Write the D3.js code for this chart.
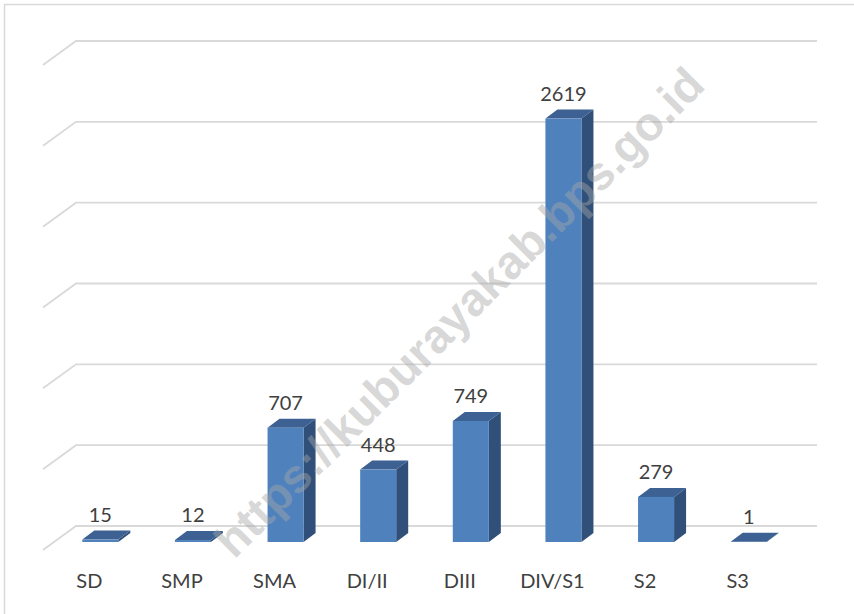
<!DOCTYPE html>
<html>
<head>
<meta charset="utf-8">
<script src="https://cdn.jsdelivr.net/npm/d3@7"></script>
<style>
  body { margin: 0; background: #fff; }
  svg { display: block; }
</style>
</head>
<body>
<svg width="854" height="614"></svg>
<script>
const svg = d3.select('svg');

// data
const categories = ["SD", "SMP", "SMA", "DI/II", "DIII", "DIV/S1", "S2", "S3"];
const values = [15, 12, 707, 448, 749, 2619, 279, 1];
const gridValues = [0, 500, 1000, 1500, 2000, 2500, 3000];
const watermark = "https://kuburayakab.bps.go.id";

// 3d layout: back wall, depth of the floor, depth of each bar
const wall = { left: 76, right: 817 };
const depth = { dx: 33, dy: -24 };       // front edge of floor -> back wall
const frontOff = { dx: -22, dy: 16 };    // back wall -> front face of bars
const barDepth = { dx: 12, dy: -9 };

const textColor = "#404040";
const gridColor = "#d9d9d9";
const labelFont = "Lato, 'Open Sans', sans-serif";

// outer chart border
svg.append('rect')
    .attr('x', 4.5).attr('y', 4.5)
    .attr('width', 900).attr('height', 700)
    .attr('fill', 'none')
    .attr('stroke', gridColor)
    .attr('stroke-width', 1.5);

const yBack = d3.scaleLinear()
    .domain([0, 3000])
    .range([526, 41]);

const x = d3.scaleBand()
    .domain(categories)
    .range([wall.left + frontOff.dx, wall.right + frontOff.dx])
    .paddingInner(0.611)
    .paddingOuter(0.3055);

const yFront = v => yBack(v) + frontOff.dy;

// gridlines on back wall + side wall
const grid = svg.append('g').attr('class', 'grid');
grid.selectAll('path').data(gridValues).enter().append('path')
    .attr('d', v => {
        const y = yBack(v);
        return `M${wall.left - depth.dx},${y - depth.dy}L${wall.left},${y}L${wall.right},${y}`;
    })
    .attr('fill', 'none')
    .attr('stroke', gridColor)
    .attr('stroke-width', 1.8);

// bars
const bars = svg.append('g').attr('class', 'bars')
    .selectAll('g').data(values).enter().append('g');

const w = x.bandwidth();
const y0 = yFront(0);

bars.append('path') // side
    .attr('d', (d, i) => {
        const x1 = x(categories[i]) + w, yt = yFront(d);
        return `M${x1},${yt}L${x1 + barDepth.dx},${yt + barDepth.dy}` +
               `L${x1 + barDepth.dx},${y0 + barDepth.dy}L${x1},${y0}Z`;
    })
    .attr('fill', '#30507a');

bars.append('path') // top
    .attr('d', (d, i) => {
        const x0 = x(categories[i]), yt = yFront(d);
        return `M${x0},${yt}L${x0 + w},${yt}L${x0 + w + barDepth.dx},${yt + barDepth.dy}` +
               `L${x0 + barDepth.dx},${yt + barDepth.dy}Z`;
    })
    .attr('fill', '#3c6192');

bars.append('rect') // front
    .attr('x', (d, i) => x(categories[i]))
    .attr('y', d => yFront(d))
    .attr('width', w)
    .attr('height', d => y0 - yFront(d))
    .attr('fill', '#4f81bd');

// value labels
svg.append('g').selectAll('text').data(values).enter().append('text')
    .attr('x', (d, i) => x(categories[i]) + w / 2)
    .attr('y', d => yFront(d) + barDepth.dy - 9)
    .attr('text-anchor', 'middle')
    .attr('font-family', labelFont)
    .attr('font-size', 20)
    .attr('fill', textColor)
    .text(d => d);

// category labels on the front edge of the floor
svg.append('g').selectAll('text').data(categories).enter().append('text')
    .attr('x', d => x(d) + w / 2 - (depth.dx + frontOff.dx))
    .attr('y', 588)
    .attr('text-anchor', 'middle')
    .attr('font-family', labelFont)
    .attr('font-size', 20)
    .attr('fill', textColor)
    .text(d => d);

// watermark
svg.append('text')
    .attr('transform', 'translate(459,312) rotate(-45)')
    .attr('text-anchor', 'middle')
    .attr('dominant-baseline', 'central')
    .attr('font-family', "'Liberation Sans', Arial, sans-serif")
    .attr('font-weight', 'bold')
    .attr('font-size', 47)
    .attr('fill', '#a8a8a8')
    .attr('fill-opacity', 0.45)
    .text(watermark);
</script>
</body>
</html>
